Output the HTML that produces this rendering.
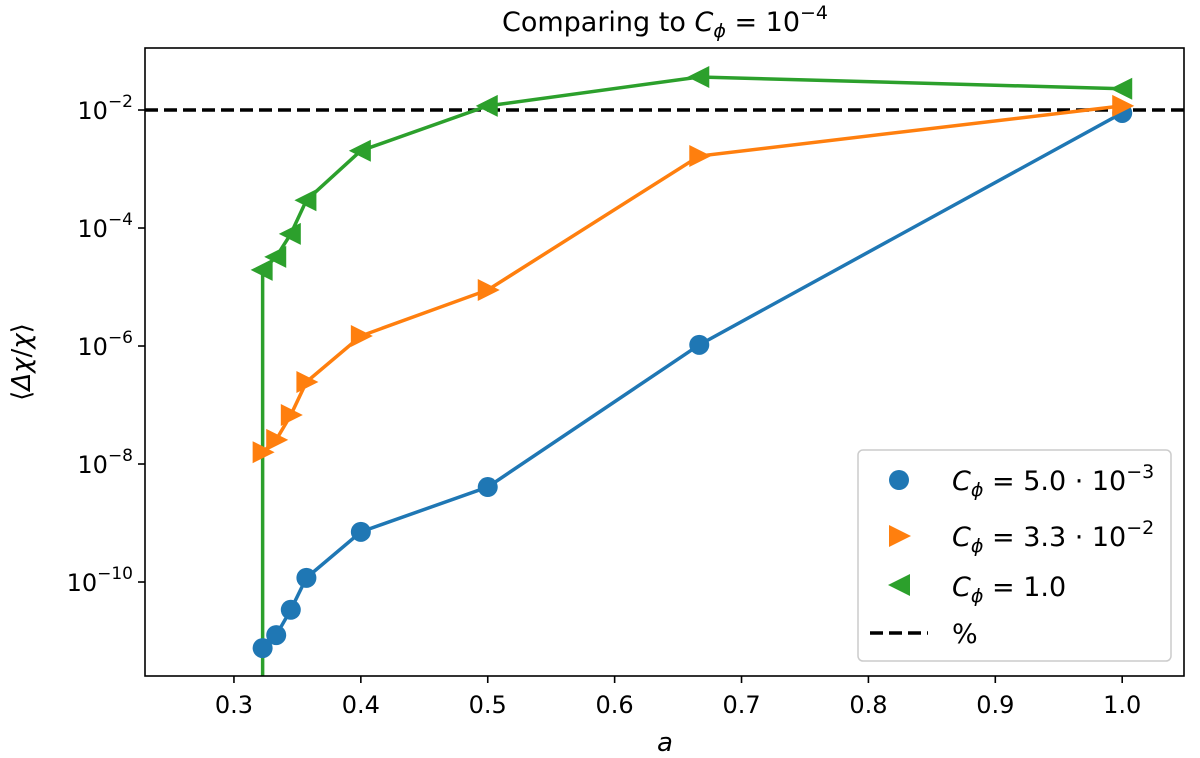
<!DOCTYPE html>
<html><head><meta charset="utf-8"><style>
body{margin:0;background:#fff;}
svg{display:block;font-family:"DejaVu Sans","Liberation Sans",sans-serif;}
</style></head><body>
<svg id="chart" width="1200" height="758" viewBox="0 0 1200 758" xmlns="http://www.w3.org/2000/svg">
<rect width="1200" height="758" fill="#fff"/>
<text x="665" y="31" font-size="27" text-anchor="middle">Comparing to <tspan font-style="italic">C</tspan><tspan font-style="italic" font-size="19" dy="6">ϕ</tspan><tspan dy="-6"> = 10</tspan><tspan font-size="19" dy="-12">−4</tspan></text>
<g id="plot"></g>
<text x="665" y="751" font-size="26" font-style="italic" text-anchor="middle">a</text>
<text transform="translate(30,362) rotate(-90)" font-size="26" text-anchor="middle">⟨<tspan font-style="italic">Δχ</tspan>/<tspan font-style="italic">χ</tspan>⟩</text>
<g>
<rect x="858" y="450" width="313" height="211" rx="5" fill="#fff" stroke="#ccc" stroke-width="1.5"/>
<circle cx="899" cy="480" r="10" fill="#1f77b4"/>
<text x="952" y="490" font-size="27"><tspan font-style="italic">C</tspan><tspan font-style="italic" font-size="19" dy="6">ϕ</tspan><tspan dy="-6"> = 5.0 · 10</tspan><tspan font-size="19" dy="-12">−3</tspan></text>
<polygon points="889,525 911,536 889,547" fill="#ff7f0e"/>
<text x="952" y="546" font-size="27"><tspan font-style="italic">C</tspan><tspan font-style="italic" font-size="19" dy="6">ϕ</tspan><tspan dy="-6"> = 3.3 · 10</tspan><tspan font-size="19" dy="-12">−2</tspan></text>
<polygon points="910,574 888,585 910,596" fill="#2ca02c"/>
<text x="952" y="596" font-size="27"><tspan font-style="italic">C</tspan><tspan font-style="italic" font-size="19" dy="6">ϕ</tspan><tspan dy="-6"> = 1.0</tspan></text>
<line x1="870" y1="633" x2="928" y2="633" stroke="#000" stroke-width="3.5" stroke-dasharray="13,6"/>
<text x="952" y="643" font-size="27">%</text>
</g>
</svg>
<script>
const xValues=[0.3226,0.3333,0.3448,0.3571,0.4,0.5,0.6667,1.0];
const blueLog=[-11.12,-10.90,-10.47,-9.93,-9.15,-8.39,-5.98,-2.05];
const orangeLog=[-7.80,-7.59,-7.17,-6.61,-5.83,-5.05,-2.78,-1.93];
const greenLog=[-4.71,-4.49,-4.10,-3.53,-2.69,-1.93,-1.44,-1.64];
const xTicks=[0.3,0.4,0.5,0.6,0.7,0.8,0.9,1.0];
const yTicks=[-10,-8,-6,-4,-2];
const refLog=-2;
const L=145,R=1184,T=48,B=676;
const xMin=0.2299,xMax=1.0487,yMin=-11.593,yMax=-0.949;
const sx=v=>L+(v-xMin)/(xMax-xMin)*(R-L);
const sy=v=>B-(v-yMin)/(yMax-yMin)*(B-T);
const NS='http://www.w3.org/2000/svg';
const g=document.getElementById('plot');
function mk(t,a){const e=document.createElementNS(NS,t);for(const k in a)e.setAttribute(k,a[k]);g.appendChild(e);return e;}
const cp=mk('clipPath',{id:'clip'});
const cr=document.createElementNS(NS,'rect');
cr.setAttribute('x',L);cr.setAttribute('y',T);cr.setAttribute('width',R-L);cr.setAttribute('height',B-T);
cp.appendChild(cr);
xTicks.forEach(v=>{
 const x=sx(v);
 const t=mk('line',{x1:x,x2:x,y1:B,y2:B+7,stroke:'#000','stroke-width':1.6});
 
 
 const l=mk('text',{x:x,y:B+37,'font-size':24,'text-anchor':'middle'});l.textContent=v.toFixed(1);
 
 
});
yTicks.forEach(v=>{
 const y=sy(v);
 const t=mk('line',{x1:L-7,x2:L,y1:y,y2:y,stroke:'#000','stroke-width':1.6});
 
 
 const l=mk('text',{x:L-12,y:y+9,'font-size':24,'text-anchor':'end'});
 l.innerHTML='10<tspan font-size="17" dy="-12">−'+Math.abs(v)+'</tspan>';
 
 
});
const ref=mk('line',{x1:L,x2:R,y1:sy(refLog),y2:sy(refLog),stroke:'#000','stroke-width':3.5,'stroke-dasharray':'13,6'});


function series(vals,color,name){
 const pts=xValues.map((x,i)=>[sx(x),sy(vals[i])]);
 const pl=mk('polyline',{points:pts.map(p=>p.join(',')).join(' '),fill:'none',stroke:color,'stroke-width':3.5,'clip-path':'url(#clip)'});
 
 
 return pts;
}
const gp=series(greenLog,'#2ca02c','green');
const vl=mk('line',{x1:gp[0][0],x2:gp[0][0],y1:gp[0][1],y2:B,stroke:'#2ca02c','stroke-width':3.5});


const bp=series(blueLog,'#1f77b4','blue');
const op=series(orangeLog,'#ff7f0e','orange');
bp.forEach(p=>{const c=mk('circle',{cx:p[0],cy:p[1],r:10,fill:'#1f77b4'});
 
 });
op.forEach(p=>{const c=mk('polygon',{points:`${p[0]-10},${p[1]-11} ${p[0]+12},${p[1]} ${p[0]-10},${p[1]+11}`,fill:'#ff7f0e'});
 
 });
gp.forEach(p=>{const c=mk('polygon',{points:`${p[0]+10},${p[1]-11} ${p[0]-12},${p[1]} ${p[0]+10},${p[1]+11}`,fill:'#2ca02c'});
 
 });
const fr=mk('rect',{x:L,y:T,width:R-L,height:B-T,fill:'none',stroke:'#000','stroke-width':1.6});


</script>
</body></html>
